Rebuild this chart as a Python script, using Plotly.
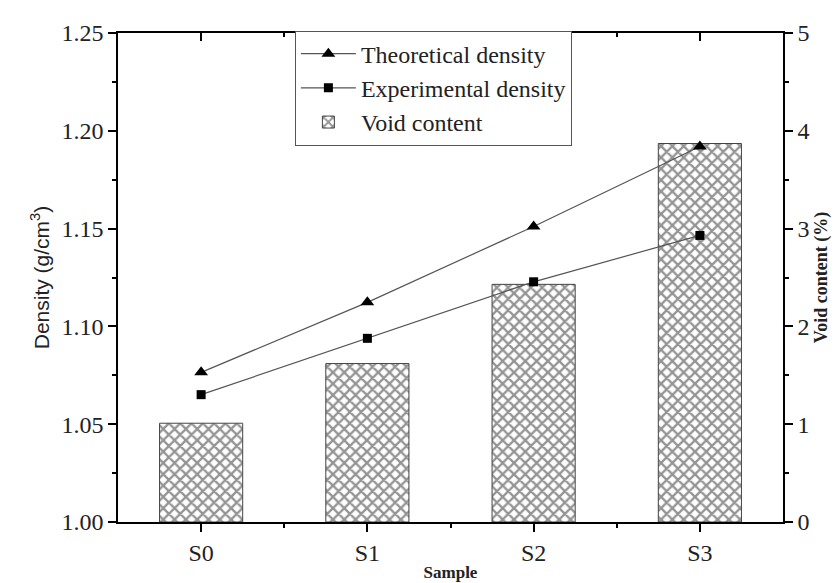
import plotly.graph_objects as go

samples = ["S0", "S1", "S2", "S3"]
x_pos = [0, 1, 2, 3]
theoretical_density = [1.0765, 1.1123, 1.1511, 1.192]
experimental_density = [1.0651, 1.0939, 1.1228, 1.1465]
void_content = [1.01, 1.62, 2.43, 3.87]

serif = "Liberation Serif"
sans = "Liberation Sans"
txt = "#222222"

fig = go.Figure()

# Bars on primary (right-side) void axis, drawn beneath
fig.add_trace(go.Bar(
    x=x_pos, y=void_content, name="Void content",
    width=0.5, legendrank=3,
    marker=dict(
        color="white",
        line=dict(color="#444444", width=1),
        pattern=dict(shape="x", size=8, solidity=0.5, fgcolor="#2a2a2a", bgcolor="white"),
    ),
    xaxis="x", yaxis="y",
))
# invisible trace so the top axis (inside ticks) is drawn
fig.add_trace(go.Scatter(
    x=[x_pos[0]], y=[void_content[0]], mode="markers", marker=dict(opacity=0),
    showlegend=False, hoverinfo="skip", xaxis="x2", yaxis="y",
))
fig.add_trace(go.Scatter(
    x=x_pos, y=theoretical_density, name="Theoretical density",
    mode="lines+markers", legendrank=1,
    line=dict(color="#555555", width=1.2),
    marker=dict(symbol="triangle-up", size=12, color="black"),
    xaxis="x", yaxis="y2",
))
fig.add_trace(go.Scatter(
    x=x_pos, y=experimental_density, name="Experimental density",
    mode="lines+markers", legendrank=2,
    line=dict(color="#555555", width=1.2),
    marker=dict(symbol="square", size=9, color="black"),
    xaxis="x", yaxis="y2",
))

axis_common = dict(
    showline=True, linecolor="black", linewidth=1.5,
    showgrid=False, zeroline=False,
    tickcolor="black", tickwidth=1.5,
)

fig.update_layout(
    width=839, height=583,
    margin=dict(l=110, r=64, t=21, b=59),
    paper_bgcolor="white", plot_bgcolor="white",
    showlegend=True,
    legend=dict(
        x=0.266, y=1.005, xanchor="left", yanchor="top",
        bordercolor="#555555", borderwidth=1, bgcolor="white",
        font=dict(family=serif, size=24, color=txt),
        traceorder="normal", itemwidth=55,
        tracegroupgap=0,
    ),
    xaxis=dict(
        **axis_common,
        range=[-0.5, 3.5],
        tickmode="array", tickvals=x_pos, ticktext=samples,
        ticks="outside", ticklen=8,
        tickfont=dict(family=serif, size=24, color=txt),
        minor=dict(ticks="outside", ticklen=4, tickcolor="black", tickwidth=1.5,
                   tickmode="array", tickvals=[0.5, 1.5, 2.5]),
        title=dict(text="<b>Sample</b>", font=dict(family=serif, size=17, color=txt), standoff=2),
    ),
    xaxis2=dict(
        overlaying="x", side="top", anchor="y",
        range=[-0.5, 3.5],
        showline=True, linecolor="black", linewidth=1.5,
        showgrid=False, zeroline=False,
        tickmode="array", tickvals=x_pos,
        ticks="inside", ticklen=8, tickcolor="black", tickwidth=1.5,
        minor=dict(ticks="inside", ticklen=4, tickcolor="black", tickwidth=1.5,
                   tickmode="array", tickvals=[0.5, 1.5, 2.5]),
        showticklabels=False,
    ),
    yaxis=dict(
        **axis_common,
        side="right",
        range=[0, 5],
        tickmode="linear", tick0=0, dtick=1,
        ticks="outside", ticklen=8,
        tickfont=dict(family=serif, size=24, color=txt),
        minor=dict(ticks="outside", ticklen=4, tickcolor="black", tickwidth=1.5, dtick=0.5),
        title=dict(text="<b>Void content (%)</b>", font=dict(family=serif, size=18, color=txt), standoff=6),
    ),
    yaxis2=dict(
        **axis_common,
        overlaying="y", side="left",
        range=[1.0, 1.25],
        tickmode="linear", tick0=1.0, dtick=0.05, tickformat=".2f",
        ticks="outside", ticklen=8,
        tickfont=dict(family=serif, size=24, color=txt),
        minor=dict(ticks="outside", ticklen=4, tickcolor="black", tickwidth=1.5, dtick=0.025),
        title=dict(text="Density (g/cm<sup>3</sup>)", font=dict(family=sans, size=21, color=txt), standoff=6),
    ),
)

fig.write_html("out.html")
